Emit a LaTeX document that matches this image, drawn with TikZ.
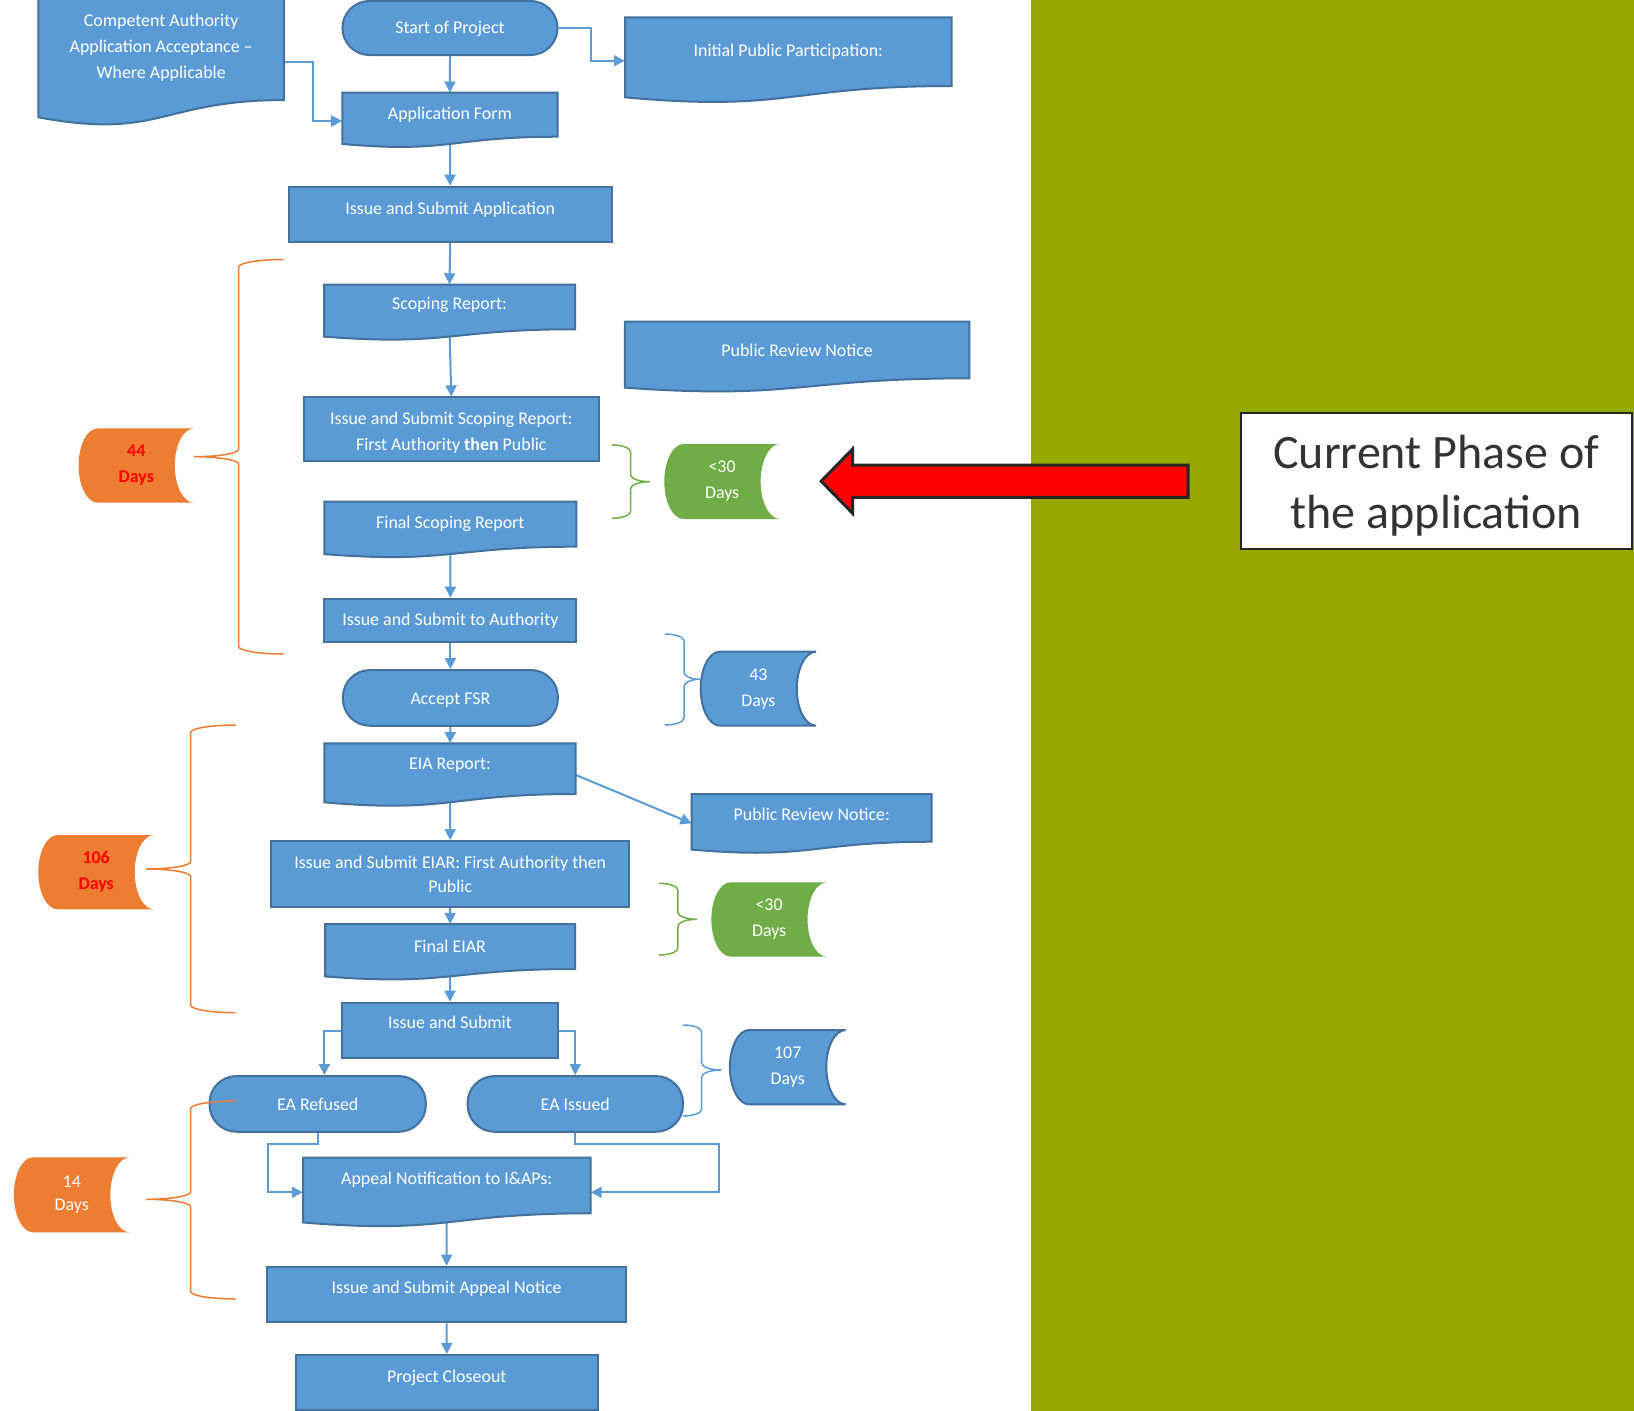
\documentclass[tikz,border=0pt]{standalone}
\usepackage{fontspec}
\setmainfont{Carlito}
\usetikzlibrary{arrows.meta}
\definecolor{bluefill}{HTML}{5B9BD5}
\definecolor{bluedraw}{HTML}{41719C}
\definecolor{orangefill}{HTML}{ED7D31}
\definecolor{greenfill}{HTML}{70AD47}
\definecolor{olivebg}{RGB}{151,169,0}
\definecolor{darkline}{HTML}{262626}
\definecolor{phasetext}{HTML}{333333}
\pgfdeclarelayer{bgfill}
\pgfdeclarelayer{conn}
\pgfsetlayers{bgfill,conn,main}
\tikzset{
  flowtext/.style={font=\fontsize{17.9}{26}\selectfont, text=white, align=center, inner sep=0pt},
  rectnode/.style={flowtext, rectangle, draw=bluedraw, fill=bluefill, line width=2pt},
  termnode/.style={flowtext, rectangle, rounded corners=27pt, draw=bluedraw, fill=bluefill, line width=2pt},
  docshape/.style={draw=bluedraw, fill=bluefill, line width=2pt},
  sdorange/.style={fill=orangefill},
  sdgreen/.style={fill=greenfill},
  sdblue/.style={fill=bluefill, draw=bluedraw, line width=2pt},
  tup/.style={text height=12.7pt, text depth=#1},
  tdown/.style={text height=14.9pt, text depth=1.2pt},
  flowarrow/.style={draw=bluefill, line width=2pt, -{Triangle[length=11pt,width=11pt]}},
  braceline/.style={line width=1.5pt},
}
% centred block of lines, moved by #1
\newcommand\mlines[2]{\raisebox{#1}[0pt][0pt]{\begin{tabular}{@{}c@{}}#2\end{tabular}}}
% document shape + node
\newcommand\docnode[7][]{%
  \pgfmathsetmacro\DOCxa{#3}\pgfmathsetmacro\DOCxb{#4}%
  \pgfmathsetmacro\DOCtop{#5}\pgfmathsetmacro\DOChh{#6}%
  \pgfmathsetmacro\DOCw{\DOCxb-\DOCxa}\pgfmathsetmacro\DOCmx{(\DOCxa+\DOCxb)/2}%
  \pgfmathsetmacro\DOCyr{\DOCtop+0.802*\DOChh}\pgfmathsetmacro\DOCyl{\DOCtop+0.934*\DOChh}%
  \pgfmathsetmacro\DOCyc{\DOCtop+1.1075*\DOChh}%
  \pgfmathsetmacro\DOCnh{0.802*\DOChh}\pgfmathsetmacro\DOCny{\DOCtop+0.401*\DOChh}%
  \path[docshape] (\DOCxa,\DOCtop) -- (\DOCxb,\DOCtop) -- (\DOCxb,\DOCyr)
    .. controls (\DOCmx,\DOCyr) and (\DOCmx,\DOCyc) .. (\DOCxa,\DOCyl) -- cycle;
  \node[flowtext, minimum width=\DOCw pt, minimum height=\DOCnh pt, #1] (#2) at (\DOCmx,\DOCny) {#7};
}
% stored data shape + node
\newcommand\sdnode[8][]{%
  \pgfmathsetmacro\SDxa{#3}\pgfmathsetmacro\SDxb{#4}\pgfmathsetmacro\SDya{#5}\pgfmathsetmacro\SDyb{#6}%
  \pgfmathsetmacro\SDr{(\SDxb-\SDxa)/6}\pgfmathsetmacro\SDym{(\SDya+\SDyb)/2}\pgfmathsetmacro\SDhh{(\SDyb-\SDya)/2}%
  \pgfmathsetmacro\SDkr{0.5523*\SDr}\pgfmathsetmacro\SDkh{0.5523*\SDhh}%
  \pgfmathsetmacro\SDw{\SDxb-\SDxa}\pgfmathsetmacro\SDh{\SDyb-\SDya}\pgfmathsetmacro\SDxm{(\SDxa+\SDxb)/2}%
  \path[#7] ({\SDxa+\SDr},\SDya) -- (\SDxb,\SDya)
    .. controls ({\SDxb-\SDkr},\SDya) and ({\SDxb-\SDr},{\SDym-\SDkh}) .. ({\SDxb-\SDr},\SDym)
    .. controls ({\SDxb-\SDr},{\SDym+\SDkh}) and ({\SDxb-\SDkr},\SDyb) .. (\SDxb,\SDyb)
    -- ({\SDxa+\SDr},\SDyb)
    .. controls ({\SDxa+\SDr-\SDkr},\SDyb) and (\SDxa,{\SDym+\SDkh}) .. (\SDxa,\SDym)
    .. controls (\SDxa,{\SDym-\SDkh}) and ({\SDxa+\SDr-\SDkr},\SDya) .. ({\SDxa+\SDr},\SDya) -- cycle;
  \node[flowtext, minimum width=\SDw pt, minimum height=\SDh pt, #1] (#2) at (\SDxm,\SDym) {#8};
}
% brace: #1 colour, #2 end x, #3 line x, #4 tip x, #5 top y, #6 tip y, #7 bottom y, #8 curl
\newcommand\mybrace[8]{%
  \draw[#1, braceline] (#2,#5) .. controls ({#2+0.5523*(#3-#2)},#5) and (#3,{#5+0.4477*#8}) .. (#3,{#5+#8})
    -- (#3,{#6-#8}) .. controls (#3,{#6-0.4477*#8}) and ({#4+0.5523*(#3-#4)},#6) .. (#4,#6)
    .. controls ({#4+0.5523*(#3-#4)},#6) and (#3,{#6+0.4477*#8}) .. (#3,{#6+#8})
    -- (#3,{#7-#8}) .. controls (#3,{#7-0.4477*#8}) and ({#2+0.5523*(#3-#2)},#7) .. (#2,#7);
}
\begin{document}
\begin{tikzpicture}[x=1pt,y=-1pt]
\useasboundingbox (0,0) rectangle (1634,1411);
\begin{pgfonlayer}{bgfill}
  \fill[white] (0,0) rectangle (1634,1411);
\end{pgfonlayer}
\fill[olivebg] (1031,0) rectangle (1634,1411);

% documents
\docnode{ca}{38.4}{284}{-5}{131}{Competent Authority\\Application Acceptance –\\Where Applicable}
\docnode{af}{342.4}{557.5}{92.7}{54.9}{Application Form}
\docnode{ipp}{625}{951.7}{17.3}{85.7}{Initial Public Participation:}
\docnode[tup=7pt]{sr}{324}{575}{284.5}{55.8}{Scoping Report:}
\docnode{prna}{624.9}{969.3}{321.7}{70.6}{Public Review Notice}
\docnode{fsr}{324.3}{576.4}{501.7}{56.1}{Final Scoping Report}
\docnode[tup=10.4pt]{eia}{324.3}{575.7}{743.3}{63.2}{EIA Report:}
\docnode[tup=8.4pt]{prnb}{691.7}{931.7}{794}{59.5}{Public Review Notice:}
\docnode{feiar}{325}{575.2}{924}{56.1}{Final EIAR}
\docnode[tup=15.6pt]{appeal}{303}{590.5}{1157.7}{69.3}{Appeal Notification to I\&APs:}

% terminals
\node[termnode, minimum width=215.1pt, minimum height=54pt, tup=1.2pt] (start) at (450,28) {Start of Project};
\node[termnode, minimum width=215pt, minimum height=55.7pt, tdown] (afsr) at (450.4,697.9) {Accept FSR};
\node[termnode, minimum width=216.4pt, minimum height=55.7pt, tdown] (ear) at (317.7,1103.9) {EA Refused};
\node[termnode, minimum width=215.5pt, minimum height=55.7pt, tdown] (eai) at (575.3,1103.9) {EA Issued};

% process rectangles
\node[rectnode, minimum width=323pt, minimum height=55pt, tup=12.4pt] (isa) at (450.2,214.2) {Issue and Submit Application};
\node[rectnode, minimum width=294.6pt, minimum height=63.7pt] (iss) at (451.3,429.2) {\mlines{-7.8pt}{Issue and Submit Scoping Report:\\First Authority \textbf{then} Public}};
\node[rectnode, minimum width=252.1pt, minimum height=43.6pt] (ita) at (450.4,620.5) {Issue and Submit to Authority};
\node[rectnode, minimum width=358.3pt, minimum height=65.7pt, font=\fontsize{17.9}{24}\selectfont] (ieiar) at (450.2,873.9) {Issue and Submit EIAR: First Authority then\\Public};
\node[rectnode, minimum width=216.4pt, minimum height=55.6pt, tup=16.8pt] (ias) at (450,1030.5) {Issue and Submit};
\node[rectnode, minimum width=358.5pt, minimum height=55.6pt, tup=14.8pt] (iapn) at (446.6,1294.5) {Issue and Submit Appeal Notice};
\node[rectnode, minimum width=301.7pt, minimum height=54.5pt, tup=13.2pt] (pco) at (446.8,1382.25) {Project Closeout};

% stored data (durations)
\sdnode[text=red, font=\fontsize{17.9}{26}\selectfont\bfseries]{dfortyfour}{78.6}{194}{428.3}{502.7}{sdorange}{44\\Days}
\sdnode{gthirtya}{664.3}{779.9}{444}{519}{sdgreen}{<30\\Days}
\sdnode{bfortythree}{700.7}{816}{651.7}{725.7}{sdblue}{43\\Days}
\sdnode[text=red, font=\fontsize{17.9}{26}\selectfont\bfseries]{donesix}{38.3}{154}{835}{909.3}{sdorange}{106\\Days}
\sdnode{gthirtyb}{711.4}{826.8}{882.3}{956.6}{sdgreen}{<30\\Days}
\sdnode{bonoseven}{729.9}{845.6}{1030}{1104.3}{sdblue}{107\\Days}
\sdnode[font=\fontsize{17.9}{23.5}\selectfont]{dfourteen}{13.9}{129.6}{1157.3}{1232.3}{sdorange}{14\\Days}

% braces
\mybrace{orangefill}{283.5}{238.6}{194}{259.5}{456.7}{654}{7.5}
\mybrace{orangefill}{235.7}{190.7}{146}{725}{869}{1012.7}{7.5}
\mybrace{orangefill}{235.7}{190.7}{146}{1101}{1199.3}{1299}{7.5}
\mybrace{greenfill}{612}{630.6}{649.8}{445}{481.7}{518.3}{7}
\mybrace{bluefill}{665}{684}{700}{634}{679.3}{725}{7}
\mybrace{greenfill}{659}{677.9}{697}{883.3}{919.3}{955}{7}
\mybrace{bluefill}{683}{701.7}{721.2}{1025}{1070}{1116}{7}

% big red arrow
\filldraw[fill=red, draw=darkline, line width=3pt, line join=miter]
  (1188.2,465) -- (852.6,465) -- (852.6,449) -- (821.2,481.2) -- (852.6,513.3)
  -- (852.6,497.3) -- (1188.2,497.3) -- cycle;

% current phase box
\node[draw=darkline, fill=white, line width=2pt, minimum width=391pt, minimum height=135.7pt,
      inner sep=0pt, font=\fontsize{48}{60}\selectfont, text=phasetext]
      (phase) at (1436.2,481.2) {\mlines{-12pt}{Current Phase of\\the application}};

% connectors
\begin{pgfonlayer}{conn}
  \draw[flowarrow] (start.south) -- (af.north);
  \draw[flowarrow] (ca.east |- 0,61.7) -| (313,121) -- (af.west |- 0,121);
  \draw[flowarrow] (start.east) -| (590.7,60.7) -- (ipp.west |- 0,60.7);
  \draw[flowarrow] (af.south) -- (isa.north);
  \draw[flowarrow] (isa.south) -- (sr.north);
  \draw[flowarrow] (sr.south) -- (iss.north);
  \draw[flowarrow] (fsr.south) -- (ita.north);
  \draw[flowarrow] (ita.south) -- (afsr.north);
  \draw[flowarrow] (afsr.south) -- (eia.north);
  \draw[flowarrow] (eia.east |- 0,775) -- (prnb.west |- 0,823.3);
  \draw[flowarrow] (eia.south) -- (ieiar.north);
  \draw[flowarrow] (ieiar.south) -- (feiar.north);
  \draw[flowarrow] (feiar.south) -- (ias.north);
  \draw[flowarrow] (ias.west) -| (ear.north -| 324.4,0);
  \draw[flowarrow] (ias.east) -| (eai.north);
  \draw[flowarrow] (ear.south) |- (268,1144.3) |- (appeal.west |- 0,1192.3);
  \draw[flowarrow] (eai.south) |- (719,1144.3) |- (appeal.east |- 0,1192.3);
  \draw[flowarrow] (appeal.south) -- (iapn.north);
  \draw[flowarrow] (iapn.south) -- (pco.north);
\end{pgfonlayer}
\end{tikzpicture}
\end{document}
